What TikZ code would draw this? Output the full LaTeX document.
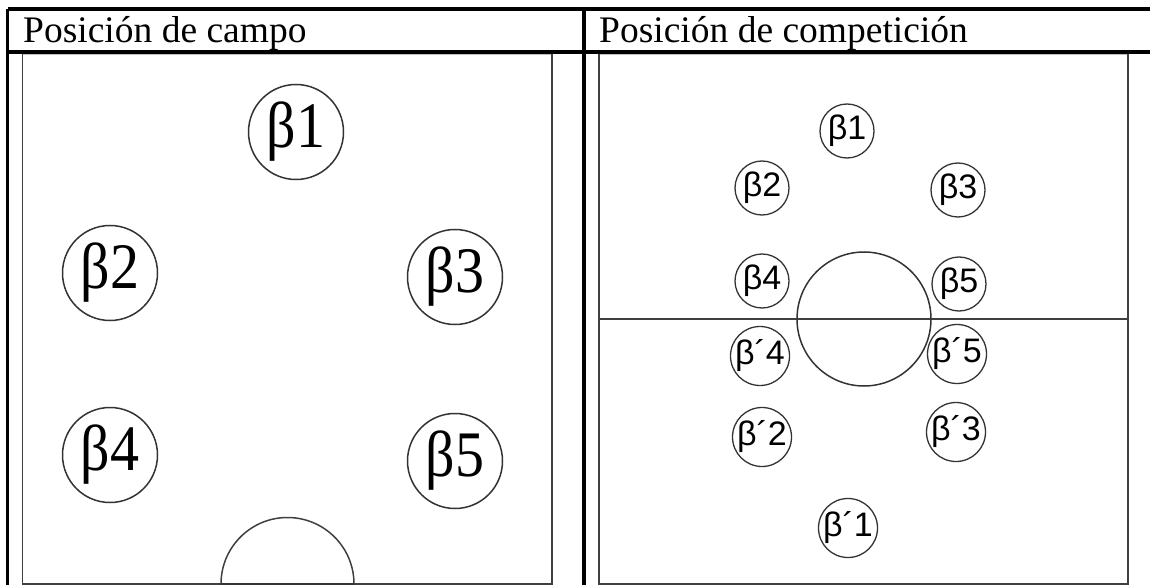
\documentclass[tikz,border=0pt]{standalone}
\usepackage{fontspec}
\usepackage{graphicx}
\setmainfont{Liberation Serif}
\newfontfamily\plsans{Liberation Sans}
\newcommand{\tall}[1]{\scalebox{1}[1.12]{#1}}
\begin{document}
\begin{tikzpicture}[x=1pt,y=-1pt,
  tab/.style={line width=3.2pt,black},
  field/.style={line width=1.5pt,draw=black!75},
  bigp/.style={circle,draw=black!80,line width=1.5pt,minimum size=95pt,inner sep=0pt,font=\fontsize{58}{58}\selectfont},
  smallp/.style={circle,draw=black!80,line width=1.3pt,minimum size=54pt,inner sep=0pt,font=\plsans\fontsize{34}{34}\selectfont},
  head/.style={anchor=base west,inner sep=0pt,font=\fontsize{37.5}{37.5}\selectfont}]
\useasboundingbox (0,0) rectangle (1150,585);
% table
\coordinate (tl) at (7.5,9); \coordinate (tr) at (1150,9);
\coordinate (hl) at (7.5,52); \coordinate (hr) at (1150,52);
\coordinate (bl) at (7.5,585); \coordinate (mt) at (584,9); \coordinate (mb) at (584,585);
\draw[tab] (tl) -- (tr);
\draw[tab] (hl) -- (hr);
\draw[tab] (tl) -- (bl);
\draw[tab] (mt) -- (mb);
\node[head] (h1) at (23,43) {Posición de campo};
\node[head] (h2) at (599,43) {Posición de competición};
% left field
\draw[black!25,line width=0.8pt] (22.5,54) -- (552,54);
\draw[field] (22.5,54) -- (22.5,584) -- (552,584) -- (552,54);
\draw[field] (221,584) arc[start angle=180,end angle=0,radius=66.5pt];
\draw[line width=2.2pt,black!80] (221,584) -- (354,584);
\node[bigp] (a1) at (296,132) {\tall{β1}};
\node[bigp] (a2) at (110,273) {\tall{β2}};
\node[bigp] (a3) at (455,277) {\tall{β3}};
\node[bigp] (a4) at (110,455) {\tall{β4}};
\node[bigp] (a5) at (455,461) {\tall{β5}};
% right field
\draw[black!25,line width=0.8pt] (599,54) -- (1128,54);
\draw[field] (599,54) -- (599,584) -- (1128,584) -- (1128,54);
\coordinate (ml) at (599,319); \coordinate (mr) at (1128,319);
\draw[field] (ml) -- (mr);
\node[circle,draw=black!80,line width=1.5pt,minimum size=134pt,inner sep=0pt] (cc) at (864,319) {};
\node[smallp] (b1) at (847,131) {β1};
\node[smallp] (b2) at (762,188) {β2};
\node[smallp] (b3) at (958,190) {β3};
\node[smallp] (b4) at (762,281) {β4};
\node[smallp] (b5) at (959,284) {β5};
\node[smallp] (c4) at (760,356) {β´4};
\node[smallp] (c5) at (957,354) {β´5};
\node[smallp] (c2) at (762,437) {β´2};
\node[smallp] (c3) at (956,432) {β´3};
\node[smallp] (c1) at (848,528) {β´1};
\end{tikzpicture}
\end{document}
